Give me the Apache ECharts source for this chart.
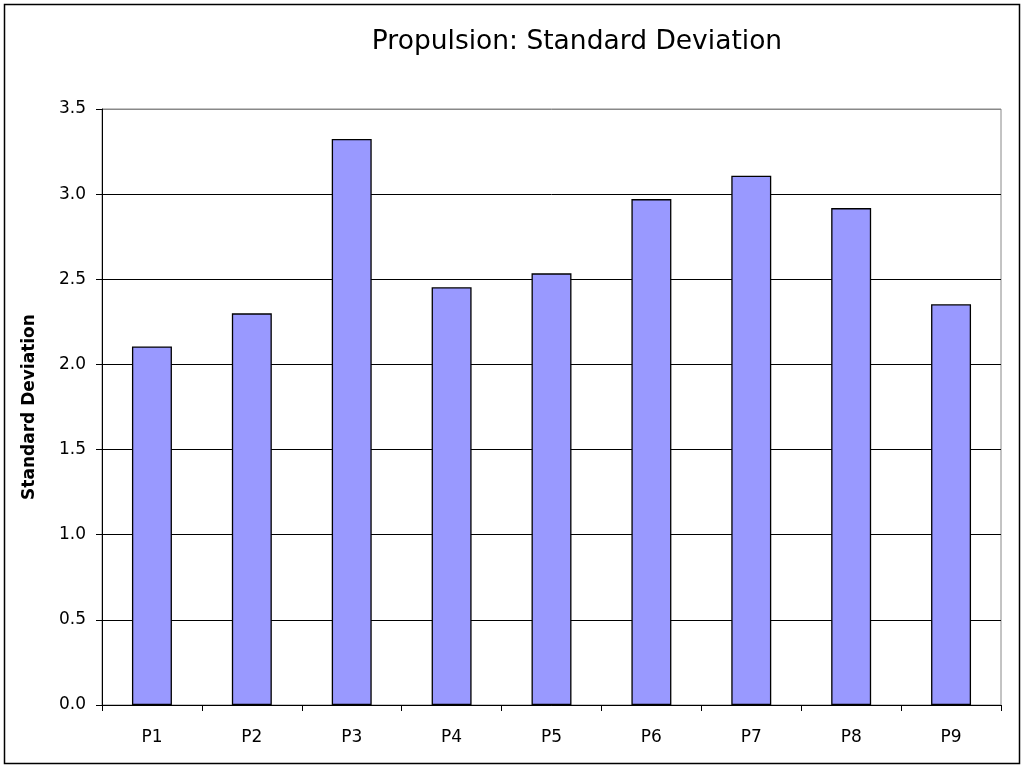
<!DOCTYPE html>
<html>
<head>
<meta charset="utf-8">
<script src="https://cdn.jsdelivr.net/npm/echarts@6/dist/echarts.min.js"></script>
<style>
html,body{margin:0;padding:0;background:#fff;}
#chart{width:1024px;height:768px;}
</style>
</head>
<body>
<div id="chart"></div>
<script>
const categories = ['P1','P2','P3','P4','P5','P6','P7','P8','P9'];
const stdDev = [2.106, 2.300, 3.324, 2.453, 2.535, 2.971, 3.108, 2.918, 2.353];
const titleText = 'Propulsion: Standard Deviation';
const yAxisName = 'Standard Deviation';

const chart = echarts.init(document.getElementById('chart'));
chart.setOption({
  backgroundColor: '#fff',
  animation: false,
  title: {
    text: titleText,
    left: 572, top: 24, textAlign: 'center',
    textStyle: {fontFamily: 'DejaVu Sans', fontSize: 26.5, fontWeight: 'normal', color: '#000'}
  },
  graphic: [{
    type: 'rect', shape: {x: 4.5, y: 4.5, width: 1015, height: 759},
    style: {fill: 'none', stroke: '#000', lineWidth: 1.5}, silent: true, z: 100
  }],
  grid: {left: 102, right: 23, top: 109, bottom: 63, show: true, borderColor: '#888', borderWidth: 1, backgroundColor: '#fff'},
  xAxis: {
    type: 'category', data: categories,
    axisLine: {lineStyle: {color: '#000', width: 1}},
    axisTick: {show: true, alignWithLabel: false, length: 6, lineStyle: {color: '#000'}},
    axisLabel: {color: '#000', fontFamily: 'DejaVu Sans', fontSize: 17, margin: 24}
  },
  yAxis: {
    type: 'value', min: 0, max: 3.5, interval: 0.5,
    name: yAxisName, nameLocation: 'middle', nameGap: 64, nameRotate: 90,
    nameTextStyle: {fontFamily: 'DejaVu Sans', fontSize: 17, fontWeight: 'bold', color: '#000'},
    axisLine: {show: true, lineStyle: {color: '#000', width: 1}},
    axisTick: {show: true, length: 6, lineStyle: {color: '#000'}},
    axisLabel: {color: '#000', fontFamily: 'DejaVu Sans', fontSize: 17, margin: 16, formatter: v => v.toFixed(1)},
    splitLine: {show: true, lineStyle: {color: ['#000','#000','#000','#000','#000','#000','#000','#888'], width: 1}}
  },
  series: [{
    type: 'bar', data: stdDev, barCategoryGap: '60%',
    itemStyle: {color: '#9999FF', borderColor: '#000', borderWidth: 1.3}
  }]
});
</script>
</body>
</html>
